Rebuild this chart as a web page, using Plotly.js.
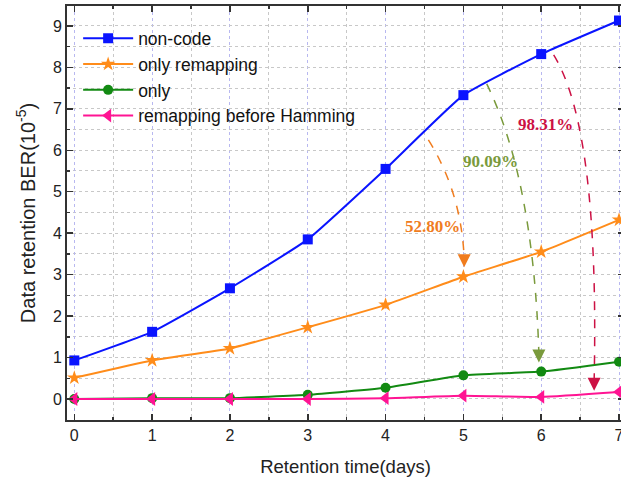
<!DOCTYPE html>
<html>
<head>
<meta charset="utf-8">
<script src="https://cdn.plot.ly/plotly-3.0.1.min.js"></script>
<style>html,body{margin:0;padding:0;background:#fff;overflow:hidden;}#chart{width:630px;height:487px;}</style>
</head>
<body>
<div id="chart"></div>
<script>
const days = [0, 1, 2, 3, 4, 5, 6, 7];
const nonCode = [0.93, 1.62, 2.67, 3.85, 5.55, 7.33, 8.32, 9.13];
const onlyRemapping = [0.51, 0.93, 1.22, 1.73, 2.27, 2.95, 3.55, 4.32];
const onlyHamming = [0.0, 0.02, 0.02, 0.10, 0.27, 0.57, 0.66, 0.90];
const remapBeforeHamming = [0.0, 0.0, 0.0, 0.0, 0.02, 0.08, 0.05, 0.17];
const seriesNames = ["non-code", "only remapping", "only", "remapping before Hamming"];
const reductionLabels = ["52.80%", "90.09%", "98.31%"];
const xTicks = [0, 1, 2, 3, 4, 5, 6, 7];
const yTicks = [0, 1, 2, 3, 4, 5, 6, 7, 8, 9];

const colors = ["#0a14ff", "#ff8c1a", "#128a12", "#ff1493"];
const symbols = ["square", "star", "circle", "triangle-left"];
const sizes = [10, 11, 10, 12];
const data = [nonCode, onlyRemapping, onlyHamming, remapBeforeHamming];

const traces = data.map((ys, i) => ({
  x: days, y: ys, name: seriesNames[i], type: "scatter", mode: "lines+markers",
  line: {color: colors[i], width: 2, shape: "spline", smoothing: 0.4},
  marker: {color: colors[i], symbol: symbols[i], size: sizes[i]}
}));

// Arrows (start, control, end) in data coords
const arrows = [
  {p: [[4.55, 6.25], [4.97, 5.0], [5.01, 3.4]], color: "#f07c1e", label: reductionLabels[0], lx: 4.6, ly: 4.15},
  {p: [[5.3, 7.6], [5.9, 5.3], [5.97, 1.1]], color: "#7a9a3c", label: reductionLabels[1], lx: 5.35, ly: 5.72},
  {p: [[6.16, 8.3], [6.75, 6.5], [6.68, 0.42]], color: "#cc1144", label: reductionLabels[2], lx: 6.06, ly: 6.61}
];

const shapes = [];
const annotations = [];
arrows.forEach(a => {
  const [s, c, e] = a.p;
  shapes.push({type: "path", xref: "x", yref: "y",
    path: `M ${s[0]},${s[1]} Q ${c[0]},${c[1]} ${e[0]},${e[1]}`,
    line: {color: a.color, width: 1.5, dash: "dash"}});
  annotations.push({x: e[0], y: e[1] - 0.22, xref: "x", yref: "y", ax: e[0], ay: e[1] + 0.1,
    axref: "x", ayref: "y", text: "", showarrow: true, arrowhead: 2, arrowsize: 1.3,
    arrowwidth: 2, arrowcolor: a.color});
  annotations.push({x: a.lx, y: a.ly, xref: "x", yref: "y", text: "<b>" + a.label + "</b>",
    showarrow: false, font: {family: "Liberation Serif, serif", size: 17, color: a.color}});
});

const layout = {
  width: 630, height: 487,
  margin: {l: 67, r: 6, t: 6, b: 67},
  paper_bgcolor: "#fff", plot_bgcolor: "#fff",
  font: {family: "Liberation Sans, Arial, sans-serif", color: "#222"},
  showlegend: true,
  legend: {x: 0.02, y: 0.965, xanchor: "left", yanchor: "top", bgcolor: "rgba(0,0,0,0)",
    font: {size: 17.5, color: "#111"}, tracegroupgap: 0, itemwidth: 50},
  xaxis: {range: [-0.094, 7.064], tickvals: xTicks, ticks: "inside", ticklen: 6, tickwidth: 1.5,
    tickcolor: "#333", showline: true, linecolor: "#333", linewidth: 2, mirror: "ticks",
    showgrid: true, gridcolor: "#b8b8f0", griddash: "dot", gridwidth: 1, zeroline: false,
    ticklabeloverflow: "allow",
    tickfont: {size: 16}, title: {text: "Retention time(days)", font: {size: 18.5}, standoff: 17},
    minor: {dtick: 0.5, ticks: "inside", ticklen: 3, tickcolor: "#333", showgrid: true,
      gridcolor: "#c8c8c8", griddash: "dot", gridwidth: 1}},
  yaxis: {range: [-0.507, 9.48], tickvals: yTicks, ticks: "inside", ticklen: 6, tickwidth: 1.5,
    tickcolor: "#333", showline: true, linecolor: "#333", linewidth: 2, mirror: "ticks",
    showgrid: true, gridcolor: "#c8c8c8", griddash: "dot", gridwidth: 1, zeroline: false,
    tickfont: {size: 16}, title: {text: "Data retention BER(10<sup>-5</sup>)", font: {size: 20}, standoff: 12},
    minor: {dtick: 0.5, ticks: "inside", ticklen: 3, tickcolor: "#333", showgrid: true,
      gridcolor: "#c8c8c8", griddash: "dot", gridwidth: 1}},
  shapes: shapes,
  annotations: annotations
};

Plotly.newPlot("chart", traces, layout, {displayModeBar: false, staticPlot: true});
</script>
</body>
</html>
